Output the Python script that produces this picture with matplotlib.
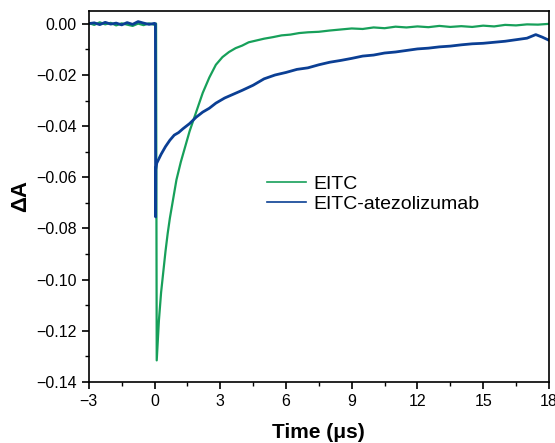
import numpy as np
import matplotlib
matplotlib.use('Agg')
import matplotlib.pyplot as plt
from matplotlib.ticker import MultipleLocator

plt.rcParams['font.family'] = ['Liberation Sans', 'DejaVu Sans']

# EITC trace (time in us, delta A)
t_eitc = [-3.0, -2.75, -2.5, -2.25, -2.0, -1.75, -1.5, -1.25, -1.0, -0.75, -0.5, -0.25, 0.0, 0.07,
          0.10, 0.2, 0.3, 0.4, 0.5, 0.6, 0.7, 0.8, 0.9, 1.0, 1.2, 1.4, 1.6, 1.8, 2.0, 2.2, 2.5,
          2.8, 3.1, 3.4, 3.7, 4.0, 4.3, 4.6, 5.0, 5.4, 5.8, 6.2, 6.6, 7.0, 7.5, 8.0, 8.5, 9.0,
          9.5, 10.0, 10.5, 11.0, 11.5, 12.0, 12.5, 13.0, 13.5, 14.0, 14.5, 15.0, 15.5, 16.0,
          16.5, 17.0, 17.5, 18.0]
a_eitc = [0.0003, -0.0004, 0.0006, -0.0002, 0.0004, -0.0006, 0.0002, -0.0003, -0.0008, 0.0001,
          -0.0005, 0.0002, -0.0004, 0.0001,
          -0.1316, -0.116, -0.105, -0.097, -0.089, -0.082, -0.076, -0.071, -0.066, -0.061,
          -0.054, -0.048, -0.042, -0.037, -0.032, -0.027, -0.021,
          -0.016, -0.013, -0.011, -0.0095, -0.0085, -0.0072, -0.0066, -0.0058, -0.0052, -0.0045,
          -0.0042, -0.0036, -0.0033, -0.0031, -0.0026, -0.0022, -0.0018,
          -0.0020, -0.0014, -0.0017, -0.0011, -0.0014, -0.0010, -0.0013, -0.0008, -0.0012,
          -0.0009, -0.0012, -0.0007, -0.0010, -0.0004, -0.0006, -0.0002, -0.0003, 0.0000]

# EITC-atezolizumab trace
t_atezo = [-3.0, -2.75, -2.5, -2.25, -2.0, -1.75, -1.5, -1.25, -1.0, -0.75, -0.5, -0.25, 0.0, 0.04,
           0.05, 0.06, 0.1, 0.3, 0.5, 0.7, 0.9, 1.1, 1.3, 1.6, 1.9, 2.2, 2.5, 2.8, 3.2, 3.6,
           4.0, 4.5, 5.0, 5.5, 6.0, 6.5, 7.0, 7.5, 8.0, 8.5, 9.0, 9.5, 10.0, 10.5, 11.0, 11.5,
           12.0, 12.5, 13.0, 13.5, 14.0, 14.5, 15.0, 15.5, 16.0, 16.5, 17.0, 17.4, 17.7, 18.0]
a_atezo = [0.0001, 0.0004, -0.0003, 0.0006, -0.0001, 0.0003, -0.0004, 0.0005, -0.0002, 0.0009,
           0.0003, -0.0002, 0.0002, 0.0000,
           -0.0755, -0.057, -0.0545, -0.051, -0.048, -0.0455, -0.0435, -0.0425, -0.041, -0.039,
           -0.0365, -0.0345, -0.033, -0.031, -0.029, -0.0275,
           -0.026, -0.024, -0.0215, -0.020, -0.019, -0.0178, -0.0172, -0.0160, -0.0150, -0.0143,
           -0.0135, -0.0126, -0.0122, -0.0114, -0.0110, -0.0104,
           -0.0098, -0.0095, -0.0090, -0.0087, -0.0082, -0.0078, -0.0076, -0.0072, -0.0068,
           -0.0062, -0.0056, -0.0042, -0.0052, -0.0064]


def yfmt(v, p):
    if abs(v) < 1e-9:
        return '0.00'
    return ('%.2f' % v).replace('-', '\u2212')


def xfmt(v, p):
    return ('%d' % round(v)).replace('-', '\u2212')


fig = plt.figure(figsize=(5.55, 4.43), dpi=100)
ax = fig.add_axes([0.160, 0.138, 0.829, 0.837])

ax.plot(t_eitc, a_eitc, color='#17a05a', lw=1.6, label='EITC')
ax.plot(t_atezo, a_atezo, color='#0b3f94', lw=2.0, label='EITC-atezolizumab')

ax.set_xlim(-3, 18)
ax.set_ylim(-0.14, 0.005)
ax.xaxis.set_major_locator(MultipleLocator(3))
ax.xaxis.set_minor_locator(MultipleLocator(1.5))
ax.yaxis.set_major_locator(MultipleLocator(0.02))
ax.yaxis.set_minor_locator(MultipleLocator(0.01))
ax.yaxis.set_major_formatter(plt.FuncFormatter(yfmt))
ax.xaxis.set_major_formatter(plt.FuncFormatter(xfmt))
ax.tick_params(which='major', direction='out', length=5, width=1.2, labelsize=11.5)
ax.tick_params(which='minor', direction='out', length=3, width=1.0)
for s in ax.spines.values():
    s.set_linewidth(1.2)

ax.set_xlabel('Time (\u03bcs)', fontsize=15, fontweight='bold', labelpad=10)
ax.set_ylabel('\u0394A', fontsize=16, fontweight='bold')

leg = ax.legend(loc='upper left', bbox_to_anchor=(0.366, 0.584), frameon=False, fontsize=14,
                handlelength=2.0, handletextpad=0.4, labelspacing=0.15, borderpad=0)
for h in leg.get_lines():
    h.set_linewidth(1.2)

fig.savefig('out.png', dpi=100)
